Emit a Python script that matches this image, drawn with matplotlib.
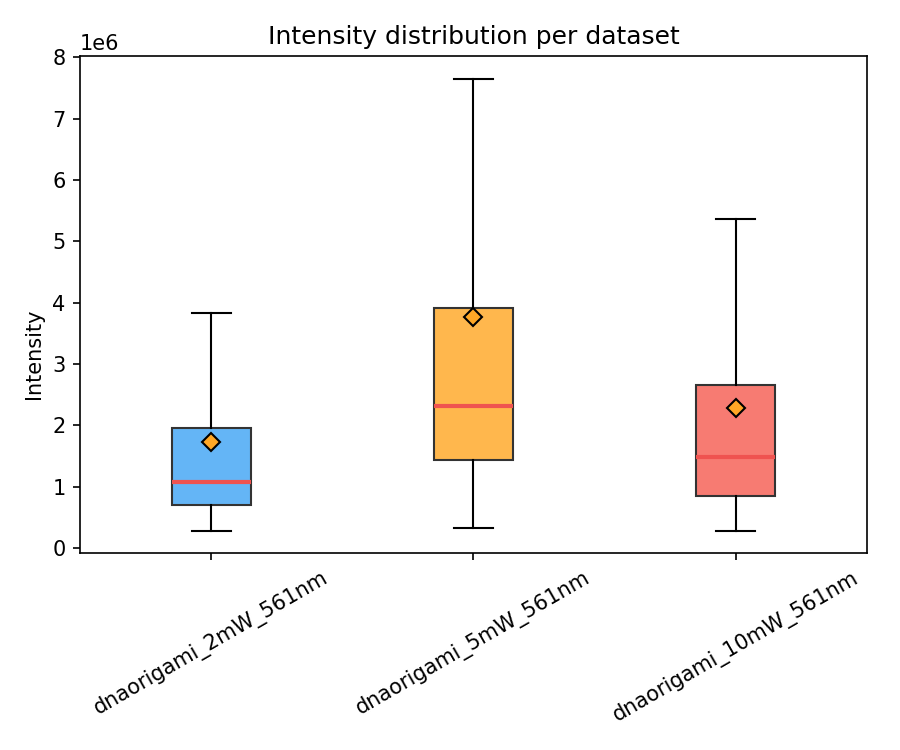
import matplotlib.pyplot as plt

datasets = ['dnaorigami_2mW_561nm', 'dnaorigami_5mW_561nm', 'dnaorigami_10mW_561nm']
whislo = [0.28e6, 0.33e6, 0.27e6]
q1 = [0.70e6, 1.43e6, 0.84e6]
med = [1.08e6, 2.32e6, 1.48e6]
q3 = [1.95e6, 3.92e6, 2.65e6]
whishi = [3.83e6, 7.65e6, 5.37e6]
means = [1.72e6, 3.77e6, 2.28e6]
colors = ['#64b5f6', '#ffb74d', '#f77b72']

stats = []
for i in range(len(datasets)):
    stats.append({'label': datasets[i], 'whislo': whislo[i], 'q1': q1[i], 'med': med[i],
                  'q3': q3[i], 'whishi': whishi[i], 'mean': means[i], 'fliers': []})

fig, ax = plt.subplots(figsize=(6, 5), dpi=150)
bp = ax.bxp(stats, widths=0.3, showmeans=True, showfliers=False, patch_artist=True,
            medianprops=dict(color='#ef5350', linewidth=2),
            meanprops=dict(marker='D', markerfacecolor='#ffa726', markeredgecolor='black', markersize=6),
            boxprops=dict(edgecolor='#333333'))
for patch, c in zip(bp['boxes'], colors):
    patch.set_facecolor(c)

ax.set_ylim(-0.08e6, 8.02e6)
ax.set_title('Intensity distribution per dataset')
ax.set_ylabel('Intensity', y=0.40)
plt.setp(ax.get_xticklabels(), rotation=30)
plt.subplots_adjust(left=0.089, right=0.963, top=0.925, bottom=0.263)
plt.savefig('out.png')
